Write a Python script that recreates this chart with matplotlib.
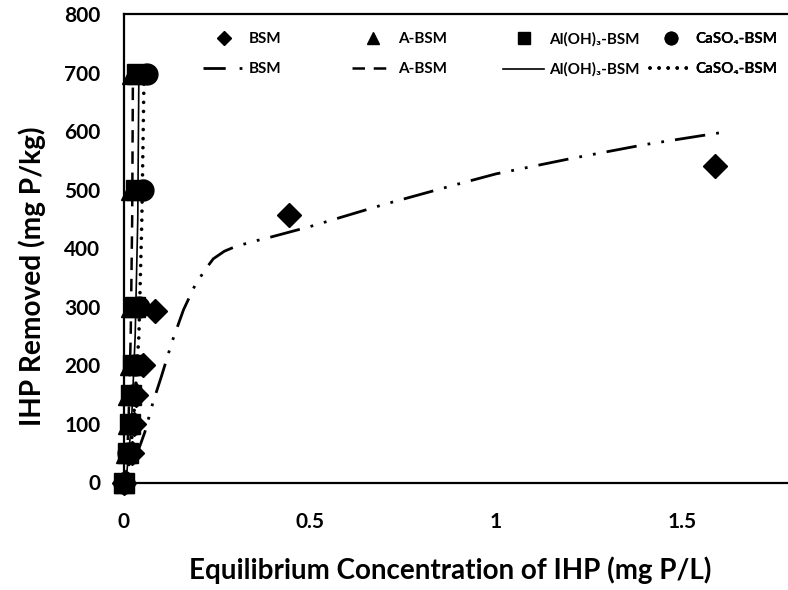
import matplotlib
matplotlib.use("Agg")
import matplotlib.pyplot as plt
from matplotlib.lines import Line2D

plt.rcParams['font.family'] = ['Lato', 'DejaVu Sans']
plt.rcParams['font.weight'] = 'bold'

# ---- data ----
y_levels = [0, 50, 100, 150, 200, 300, 500, 697]

bsm_x = [0.0, 0.022, 0.027, 0.032, 0.050, 0.083, 0.443, 1.589]
bsm_y = [0, 50, 100, 150, 200, 293, 457, 541]

absm_x = [0.0, 0.005, 0.010, 0.012, 0.015, 0.018, 0.020, 0.022]
alo_x = [0.0, 0.010, 0.015, 0.020, 0.025, 0.030, 0.032, 0.035]
caso_x = [0.0, 0.012, 0.020, 0.025, 0.030, 0.040, 0.052, 0.062]

# fitted curves
bsm_fit_x = [0.03, 0.056, 0.078, 0.10, 0.129, 0.16, 0.191, 0.22, 0.24, 0.27,
             0.30, 0.35, 0.40, 0.50, 0.70, 0.90, 1.00, 1.20, 1.40, 1.60]
bsm_fit_y = [40, 86, 137, 180, 240, 295, 337, 365, 382, 395,
             403, 412, 420, 437, 475, 510, 527, 553, 577, 597]
absm_fit_x = [0.005, 0.012, 0.018, 0.022, 0.024]
absm_fit_y = [0, 100, 250, 450, 700]
alo_fit_x = [0.005, 0.020, 0.030, 0.037, 0.040]
alo_fit_y = [0, 100, 250, 450, 700]
caso_fit_x = [0.008, 0.025, 0.040, 0.048, 0.054]
caso_fit_y = [0, 100, 250, 450, 700]

x_ticks = [0, 0.5, 1, 1.5]
x_tick_labels = ['0', '0.5', '1', '1.5']
y_ticks = [0, 100, 200, 300, 400, 500, 600, 700, 800]

labels = ['BSM', 'A-BSM', 'Al(OH)\u2083-BSM', 'CaSO\u2084-BSM']

W, H = 788, 590
fig = plt.figure(figsize=(W / 100, H / 100), dpi=100)
ax = fig.add_axes([124 / W, (H - 482.5) / H, 1 - 124 / W, (482.5 - 14) / H])

k = 'black'
# fit lines
l1, = ax.plot(bsm_fit_x, bsm_fit_y, color=k, lw=2.0,
              linestyle=(0, (11, 4, 1, 4, 1, 4)))
l2, = ax.plot(absm_fit_x, absm_fit_y, color=k, lw=1.8, linestyle=(0, (5, 3.5)))
l3, = ax.plot(alo_fit_x, alo_fit_y, color=k, lw=1.2, linestyle='-')
l4, = ax.plot(caso_fit_x, caso_fit_y, color=k, lw=2.6,
              linestyle=(0, (0.01, 2.5)), dash_capstyle='round')

# markers
m1, = ax.plot(bsm_x, bsm_y, 'D', color=k, ms=12, linestyle='none', clip_on=False)
m2, = ax.plot(absm_x, y_levels, '^', color=k, ms=15, linestyle='none', clip_on=False)
m3, = ax.plot(alo_x, y_levels, 's', color=k, ms=14, linestyle='none', clip_on=False)
m4, = ax.plot(caso_x, y_levels, 'o', color=k, ms=15, linestyle='none', clip_on=False)

ax.set_xlim(0, (W - 124) / 372)
ax.set_ylim(0, 800)
ax.set_xticks(x_ticks)
ax.set_xticklabels(x_tick_labels)
ax.set_yticks(y_ticks)
ax.tick_params(length=0, labelsize=15)
ax.tick_params(axis='y', pad=17)
ax.tick_params(axis='x', pad=21)
for lab in ax.get_xticklabels() + ax.get_yticklabels():
    lab.set_fontweight('bold')
for s in ['left', 'top', 'bottom']:
    ax.spines[s].set_linewidth(1.6)
ax.spines['right'].set_visible(False)

ax.set_xlabel('Equilibrium Concentration of IHP (mg P/L)', fontsize=20,
              fontweight='bold')
ax.set_ylabel('IHP Removed (mg P/kg)', fontsize=20.2, fontweight='bold')
ax.xaxis.set_label_coords((450 - 124) / 664, (482.5 - 556) / 468.5)
ax.yaxis.set_label_coords((46 - 124) / 664, (482.5 - 276) / 468.5)

# legend proxy for the BSM fit so the short handle shows "dash · "
l1_proxy = Line2D([], [], color=k, lw=2.0, linestyle=(0, (8, 5, 1, 5)))

# legend: one small legend per column
cols_x = [203, 352, 503, 650]
handles = [(m1, l1_proxy), (m2, l2), (m3, l3), (m4, l4)]
for cx, (mh, lh), lab in zip(cols_x, handles, labels):
    leg = ax.legend([mh, lh], [lab, lab], loc='upper left',
                    bbox_to_anchor=((cx - 124) / (W - 124), (482.5 - 32) / (482.5 - 14)),
                    frameon=False, ncol=1, handlelength=2.7,
                    handletextpad=0.3, labelspacing=1.05, markerscale=0.6,
                    borderpad=0, borderaxespad=0, prop={'weight': 'bold', 'size': 11})
    ax.add_artist(leg)

fig.savefig('out.png', dpi=100)
